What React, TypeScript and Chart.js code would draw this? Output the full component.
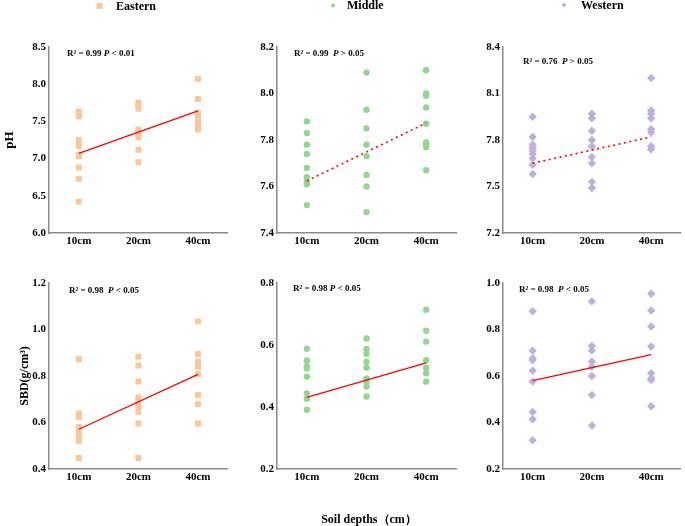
import React, { useEffect, useRef } from 'react';
import { Chart, registerables } from 'chart.js';
Chart.register(...registerables);

// ---------------- data ----------------
const depths = ['10cm', '20cm', '40cm'];
const legendLabels = ['Eastern', 'Middle', 'Western'];

const phEastern = [
  [7.63, 7.6, 7.57, 7.25, 7.17, 7.05, 7.03, 6.88, 6.73, 6.42],
  [7.75, 7.71, 7.67, 7.39, 7.34, 7.29, 7.12, 6.95],
  [8.07, 7.8, 7.61, 7.56, 7.5, 7.45, 7.39],
];
const phEasternFit = [7.07, 7.64];

const phMiddle = [
  [7.88, 7.83, 7.78, 7.74, 7.68, 7.64, 7.62, 7.61, 7.52],
  [8.09, 7.93, 7.85, 7.78, 7.73, 7.65, 7.6, 7.49],
  [8.1, 8.0, 7.99, 7.94, 7.87, 7.79, 7.78, 7.77, 7.67],
];
const phMiddleFit = [7.624, 7.873];

const phWestern = [
  [7.95, 7.82, 7.77, 7.75, 7.73, 7.71, 7.68, 7.64, 7.58],
  [7.97, 7.94, 7.86, 7.8, 7.76, 7.69, 7.65, 7.53, 7.49],
  [8.2, 7.99, 7.97, 7.94, 7.87, 7.85, 7.76, 7.74],
];
const phWesternFit = [7.65, 7.82];

const sbdEastern = [
  [0.872, 0.639, 0.624, 0.581, 0.567, 0.545, 0.521, 0.447],
  [0.883, 0.845, 0.776, 0.708, 0.689, 0.668, 0.646, 0.596, 0.447],
  [1.035, 0.895, 0.862, 0.84, 0.809, 0.718, 0.679, 0.596],
];
const sbdEasternFit = [0.571, 0.807];

const sbdMiddle = [
  [0.588, 0.55, 0.532, 0.524, 0.498, 0.444, 0.427, 0.391],
  [0.621, 0.587, 0.572, 0.546, 0.527, 0.492, 0.482, 0.466, 0.434],
  [0.714, 0.646, 0.611, 0.551, 0.527, 0.509, 0.482],
];
const sbdMiddleFit = [0.431, 0.542];

const sbdWestern = [
  [0.879, 0.709, 0.676, 0.669, 0.623, 0.576, 0.445, 0.414, 0.324],
  [0.921, 0.729, 0.709, 0.662, 0.64, 0.6, 0.518, 0.387],
  [0.954, 0.882, 0.813, 0.727, 0.612, 0.59, 0.583, 0.47],
];
const sbdWesternFit = [0.58, 0.692];

const statR2 = ['0.99', '0.99', '0.76', '0.98', '0.98', '0.98'];
const statP = ['< 0.01', '> 0.05', '> 0.05', '< 0.05', '< 0.05', '< 0.05'];

// ---------------- styles ----------------
const FONT = '"Liberation Serif", "Times New Roman", serif';
const colors = ['rgb(252,199,152)', 'rgb(146,214,146)', 'rgb(190,175,220)'];
const styles = ['rect', 'circle', 'rectRot'];
const radii = [4.2, 3.2, 4.2];
const legendRadii = [3, 2, 2.4];
const AXIS = '#8a8a8a';

type Panel = {
  left: number; top: number; width: number; height: number;
  padTop: number; padRight: number; yW: number; xH: number;
  group: number; data: number[][]; fit: number[]; dashed: boolean;
  min: number; max: number; step: number;
  yTitle?: string; yTitleSize?: number; yTitlePad?: number;
  stat: { x: number; y: number; gap: string };
  legend?: { x: number; y: number; tx: number };
  xTitle?: { x: number; y: number; text: string };
};

const panels: Panel[] = [
  { left: 0, top: 0, width: 232, height: 260, padTop: 47, padRight: 1, yW: 49, xH: 27, group: 0,
    data: phEastern, fit: phEasternFit, dashed: false, min: 6.0, max: 8.5, step: 0.5,
    yTitle: 'pH', yTitleSize: 13, yTitlePad: 2, stat: { x: 67, y: 54, gap: ' ' }, legend: { x: 99.5, y: 6, tx: 116 } },
  { left: 232, top: 0, width: 228, height: 260, padTop: 47, padRight: 2, yW: 45, xH: 27, group: 1,
    data: phMiddle, fit: phMiddleFit, dashed: true, min: 7.4, max: 8.2, step: 0.2,
    stat: { x: 294, y: 54, gap: '  ' }, legend: { x: 333, y: 5.5, tx: 347 } },
  { left: 460, top: 0, width: 225, height: 260, padTop: 47, padRight: 2, yW: 43, xH: 27, group: 2,
    data: phWestern, fit: phWesternFit, dashed: true, min: 7.2, max: 8.4, step: 0.3,
    stat: { x: 523, y: 62, gap: '  ' }, legend: { x: 564, y: 5, tx: 581 } },
  { left: 0, top: 260, width: 232, height: 266, padTop: 23, padRight: 1, yW: 49, xH: 57, group: 0,
    data: sbdEastern, fit: sbdEasternFit, dashed: false, min: 0.4, max: 1.2, step: 0.2,
    yTitle: 'SBD(g/cm³)', yTitleSize: 12, yTitlePad: 18, stat: { x: 69, y: 291, gap: '  ' } },
  { left: 232, top: 260, width: 228, height: 266, padTop: 23, padRight: 2, yW: 45, xH: 57, group: 1,
    data: sbdMiddle, fit: sbdMiddleFit, dashed: false, min: 0.2, max: 0.8, step: 0.2,
    stat: { x: 293, y: 289, gap: ' ' }, xTitle: { x: 369, y: 520, text: 'Soil depths（cm）' } },
  { left: 460, top: 260, width: 225, height: 266, padTop: 23, padRight: 2, yW: 43, xH: 57, group: 2,
    data: sbdWestern, fit: sbdWesternFit, dashed: false, min: 0.2, max: 1.0, step: 0.2,
    stat: { x: 519, y: 290, gap: '  ' } },
];

function drawMarker(ctx: CanvasRenderingContext2D, style: string, x: number, y: number, r: number) {
  ctx.beginPath();
  if (style === 'rect') {
    ctx.rect(x - r, y - r, 2 * r, 2 * r);
  } else if (style === 'circle') {
    ctx.arc(x, y, r, 0, Math.PI * 2);
  } else {
    ctx.moveTo(x, y - r); ctx.lineTo(x + r, y); ctx.lineTo(x, y + r); ctx.lineTo(x - r, y); ctx.closePath();
  }
  ctx.fill();
}

const overlayPlugin = {
  id: 'overlay',
  afterDraw(chart: any, _args: any, opts: any) {
    const p: Panel = opts.panel;
    const idx: number = opts.index;
    const ctx: CanvasRenderingContext2D = chart.ctx;
    ctx.save();
    ctx.fillStyle = '#000';
    ctx.textBaseline = 'middle';
    ctx.textAlign = 'left';
    // stats text
    const parts = [
      { t: 'R² = ' + statR2[idx] + p.stat.gap, it: false },
      { t: 'P', it: true },
      { t: ' ' + statP[idx], it: false },
    ];
    let x = p.stat.x - p.left;
    const y = p.stat.y - p.top;
    for (const part of parts) {
      ctx.font = `${part.it ? 'italic ' : ''}bold 9px ${FONT}`;
      ctx.fillText(part.t, x, y);
      x += ctx.measureText(part.t).width;
    }
    // legend
    if (p.legend) {
      const lx = p.legend.x - p.left;
      const ly = p.legend.y - p.top;
      ctx.fillStyle = colors[p.group];
      drawMarker(ctx, styles[p.group], lx, ly, legendRadii[p.group]);
      ctx.fillStyle = '#000';
      ctx.font = `bold 12px ${FONT}`;
      ctx.fillText(legendLabels[p.group], p.legend.tx - p.left, ly + 0.5);
    }
    if (p.xTitle) {
      ctx.font = `bold 12px ${FONT}`;
      ctx.textAlign = 'center';
      ctx.fillText(p.xTitle.text, p.xTitle.x - p.left, p.xTitle.y - p.top);
    }
    ctx.restore();
  },
};

function PanelChart({ panel, index }: { panel: Panel; index: number }) {
  const ref = useRef<HTMLCanvasElement>(null);
  useEffect(() => {
    if (!ref.current) return;
    const p = panel;
    const points: { x: string; y: number }[] = [];
    p.data.forEach((arr, i) => arr.forEach((v) => points.push({ x: depths[i], y: v })));
    const chart = new Chart(ref.current, {
      type: 'scatter',
      data: {
        labels: depths,
        datasets: [
          {
            type: 'line',
            data: [
              { x: depths[0], y: p.fit[0] },
              { x: depths[depths.length - 1], y: p.fit[1] },
            ],
            borderColor: '#ff0000',
            borderWidth: p.dashed ? 1.6 : 1.3,
            borderDash: p.dashed ? [2, 3.5] : [],
            pointRadius: 0,
            fill: false,
            order: 0,
          } as any,
          {
            data: points,
            pointStyle: styles[p.group],
            pointRadius: radii[p.group],
            backgroundColor: colors[p.group],
            borderWidth: 0,
            order: 1,
          } as any,
        ],
      },
      options: {
        animation: false,
        responsive: false,
        devicePixelRatio: 1,
        events: [],
        layout: { padding: { top: p.padTop, right: p.padRight, left: 0, bottom: 0 } },
        plugins: {
          legend: { display: false },
          tooltip: { enabled: false },
          overlay: { panel: p, index },
        } as any,
        scales: {
          x: {
            type: 'category',
            labels: depths,
            offset: true,
            grid: { display: false, drawTicks: false },
            border: { color: AXIS, width: 1.5 },
            ticks: { color: '#000', font: { family: FONT, size: 11, weight: 'bold' }, padding: 2 },
            afterFit: (s: any) => { s.height = p.xH; },
          },
          y: {
            type: 'linear',
            min: p.min,
            max: p.max,
            grid: { display: false, drawTicks: false },
            border: { color: AXIS, width: 1.5 },
            ticks: {
              stepSize: p.step,
              color: '#000',
              padding: 3,
              font: { family: FONT, size: 11, weight: 'bold' },
              callback: (v: any) => Number(v).toFixed(1),
            },
            title: {
              display: !!p.yTitle,
              text: p.yTitle || '',
              color: '#000',
              font: { family: FONT, size: p.yTitleSize || 12, weight: 'bold' },
              padding: { top: p.yTitlePad || 0, bottom: 0 },
            },
            afterFit: (s: any) => { s.width = p.yW; },
          },
        } as any,
      },
      plugins: [overlayPlugin as any],
    });
    return () => chart.destroy();
  }, [panel, index]);
  return (
    <canvas
      ref={ref}
      width={panel.width}
      height={panel.height}
      style={{ position: 'absolute', left: panel.left, top: panel.top, width: panel.width, height: panel.height }}
    />
  );
}

export default function App() {
  return (
    <div style={{ position: 'fixed', left: 0, top: 0, width: 685, height: 526, background: '#fff', overflow: 'hidden' }}>
      {panels.map((p, i) => (
        <PanelChart key={i} panel={p} index={i} />
      ))}
    </div>
  );
}
